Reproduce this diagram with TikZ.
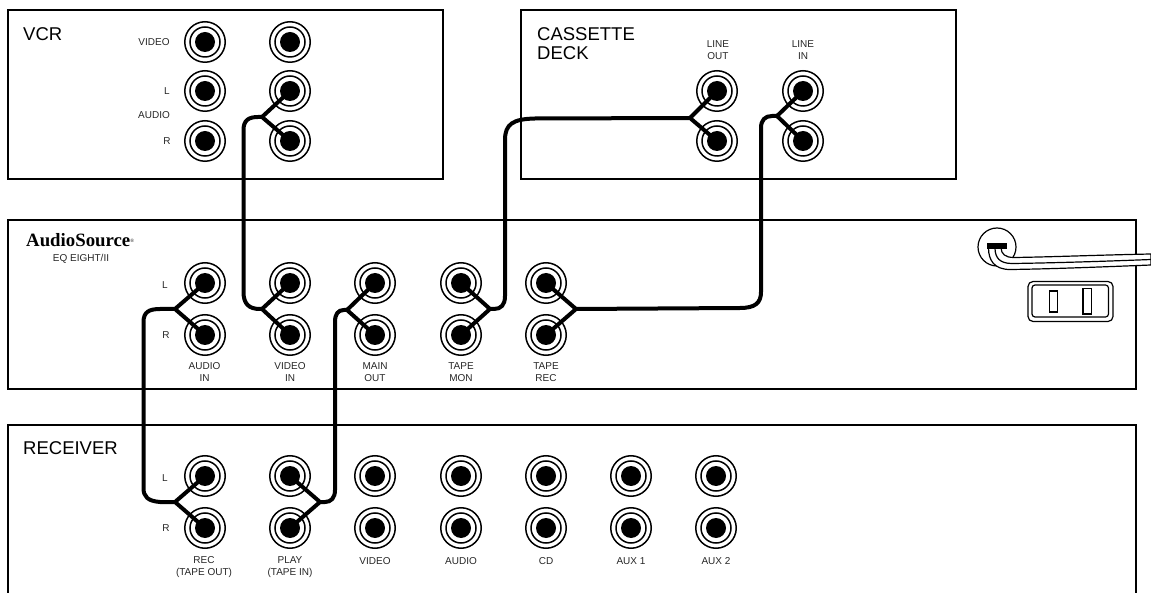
\documentclass[tikz,border=0pt]{standalone}
\usepackage{fontspec}
\setmainfont{Liberation Sans}
\newfontfamily\brandfont{Liberation Serif}
\tikzset{
  panel/.style={line width=2pt,draw=black},
  jackring/.style={circle,draw=black,line width=1.5pt,fill=white,minimum size=40.5pt,inner sep=0pt,outer sep=0pt},
  cable/.style={line width=4pt,draw=black,line join=round,line cap=round},
  stub/.style={line width=4pt,draw=black,line join=miter},
  tiny/.style={font=\fontsize{10}{12}\selectfont,align=center,inner sep=0pt,text=black!85},
  title/.style={font=\fontsize{18.5}{19}\selectfont,align=left,anchor=north west,inner sep=0pt},
  thinl/.style={line width=1.2pt,draw=black},
}
\newcommand{\jack}[3]{\node[jackring] (#1) at (#2,#3) {};
  \draw[line width=1.5pt] (#1.center) circle (15pt);
  \fill (#1.center) circle (10pt);}
\begin{document}
\begin{tikzpicture}[x=1pt,y=-1pt]
\useasboundingbox (0,0) rectangle (1151,593);
% panels
\draw[panel] (8,10) rectangle (443,179);
\draw[panel] (521,10) rectangle (956,179);
\draw[panel] (8,220) rectangle (1136,389);
\draw[panel] (8,594) -- (8,425) -- (1136,425) -- (1136,594);
% jacks
\jack{va}{205}{42}\jack{vb}{205}{91}\jack{vc}{205}{141}
\jack{vd}{290}{42}\jack{ve}{290}{91}\jack{vf}{290}{141}
\jack{cla}{717}{91}\jack{clb}{717}{141}
\jack{cra}{803}{91}\jack{crb}{803}{141}
\jack{ea}{205}{283}\jack{eb}{205}{335}
\jack{ec}{290}{283}\jack{ed}{290}{335}
\jack{ee}{375}{283}\jack{ef}{375}{335}
\jack{eg}{461}{283}\jack{eh}{461}{335}
\jack{ei}{546}{283}\jack{ej}{546}{335}
\jack{ra}{205}{476}\jack{rb}{205}{528}
\jack{rc}{290}{476}\jack{rd}{290}{528}
\jack{re}{375}{476}\jack{rf}{375}{528}
\jack{rg}{461}{476}\jack{rh}{461}{528}
\jack{ri}{546}{476}\jack{rj}{546}{528}
\jack{rk}{631}{476}\jack{rl}{631}{528}
\jack{rm}{716}{476}\jack{rn}{716}{528}
% junctions
\coordinate (jv) at (262,117);
\coordinate (jvi) at (262,309);
\coordinate (jai) at (175,309);
\coordinate (jrr) at (175,502);
\coordinate (jmo) at (347,310);
\coordinate (jpl) at (320,502);
\coordinate (jtm) at (490,309);
\coordinate (jlo) at (690,118);
\coordinate (jtr) at (576,309);
\coordinate (jli) at (777,116);
% Y stubs
\foreach \j/\p/\q in {jv/ve/vf,jvi/ec/ed,jai/ea/eb,jrr/ra/rb,jmo/ee/ef,jpl/rc/rd,jtm/eg/eh,jlo/cla/clb,jtr/ei/ej,jli/cra/crb}
  \draw[stub] (\p.center) -- (\j) -- (\q.center);
% cables
\draw[cable] (jv) -- (258,117) .. controls (249,117) and (243.5,120) .. (243.5,130) -- (243.5,292) .. controls (243.5,304) and (249,309) .. (260,309) -- (jvi);
\draw[cable] (jai) -- (160,309) .. controls (149,309) and (143.5,312) .. (143.5,322) -- (143.5,488) .. controls (143.5,497) and (148,501) .. (160,502) -- (jrr);
\draw[cable] (jmo) -- (344,310) .. controls (338,310) and (335,314) .. (335,322) -- (335,490) .. controls (335,498) and (331,502) .. (325,502) -- (jpl);
\draw[cable] (jtm) -- (494,309) .. controls (501,309) and (505,305) .. (505,296) -- (505,140) .. controls (505,124) and (513,119) .. (535,118.5) -- (jlo);
\draw[cable] (jtr) -- (740,308) .. controls (755,308) and (761,303) .. (761,292) -- (761,128) .. controls (761,120) and (765,116) .. (772,116) -- (jli);
% VCR labels
\node[title] (tvcr) at (23,27) {VCR};
\node[tiny] (lvid) at (154,42) {VIDEO};
\node[tiny] (lvl) at (167,91) {L};
\node[tiny] (lva) at (154,115) {AUDIO};
\node[tiny] (lvr) at (167,141) {R};
% cassette
\node[title] (tcas) at (537,27) {CASSETTE\\DECK};
\node[tiny] (llo) at (718,50) {LINE\\OUT};
\node[tiny] (lli) at (803,50) {LINE\\IN};
% EQ
\node[inner sep=0pt,anchor=base west] (brand) at (26,247) {\brandfont\bfseries\fontsize{18.8}{19}\selectfont AudioSource\raisebox{4pt}{\fontsize{5}{5}\selectfont\mdseries ®}};
\node[tiny] (model) at (81,258.5) {EQ EIGHT/II};
\node[tiny] (lel) at (165,285) {L};
\node[tiny] (ler) at (166,335) {R};
\node[tiny] (lai) at (204.5,372) {AUDIO\\IN};
\node[tiny] (lvi) at (290,372) {VIDEO\\IN};
\node[tiny] (lmo) at (375,372) {MAIN\\OUT};
\node[tiny] (ltm) at (461,372) {TAPE\\MON};
\node[tiny] (ltr) at (546,372) {TAPE\\REC};
% receiver
\node[title] (trec) at (23,441) {RECEIVER};
\node[tiny] (lrl) at (165,478) {L};
\node[tiny] (lrr) at (166,528) {R};
\node[tiny] (lrc) at (204,567) {REC\\(TAPE OUT)};
\node[tiny] (lpl) at (290,567) {PLAY\\(TAPE IN)};
\node[tiny] (lrv) at (375,561) {VIDEO};
\node[tiny] (lra) at (461,561) {AUDIO};
\node[tiny] (lcd) at (546,561) {CD};
\node[tiny] (lx1) at (631,561) {AUX 1};
\node[tiny] (lx2) at (716,561) {AUX 2};
% power
\draw[thinl] (997,247) circle (19pt);
\draw[thinl,fill=white] (988.5,248) .. controls (988.5,260) and (994,269.5) .. (1010,269.5)
  .. controls (1050,269) and (1100,267) .. (1151,265) -- (1151,254)
  .. controls (1100,255) and (1050,257) .. (1014,257.5)
  .. controls (1005,257.5) and (1001.5,254) .. (1001,248) -- cycle;
\draw[thinl] (995,248) .. controls (995,258) and (1000,263.5) .. (1012,263.5)
  .. controls (1050,263) and (1100,261.5) .. (1151,259.5);
\fill (987,243.5) rectangle (1006.5,249.5);
\draw[thinl,rounded corners=5pt] (1028,281.5) rectangle (1113,321.5);
\draw[thinl,rounded corners=3pt] (1032,285) rectangle (1108.5,317);
\draw[thinl] (1049.5,291) rectangle (1057.5,312);
\draw[thinl] (1083,288.5) rectangle (1091.5,314);
\end{tikzpicture}
\end{document}
